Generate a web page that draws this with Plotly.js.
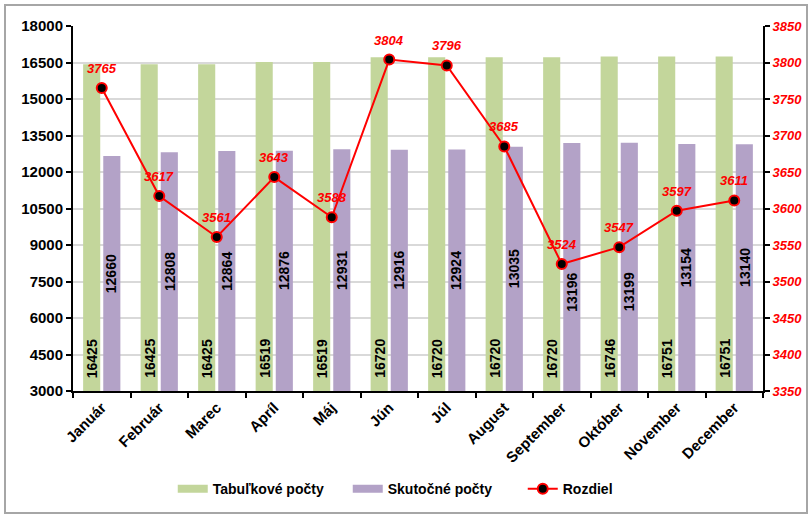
<!DOCTYPE html>
<html><head><meta charset="utf-8">
<script src="https://cdn.plot.ly/plotly-3.0.1.min.js"></script>
<style>html,body{margin:0;padding:0;background:#fff;}#c{width:811px;height:518px;}
#b{position:absolute;left:4px;top:4px;width:800px;height:506px;border:2px solid #a6a6a6;pointer-events:none;}</style>
</head><body><div id="c"></div><div id="b"></div>
<script>
const months = ["Január","Február","Marec","Apríl","Máj","Jún","Júl","August","September","Október","November","December"];
const tabulkove = [16425,16425,16425,16519,16519,16720,16720,16720,16720,16746,16751,16751];
const skutocne = [12660,12808,12864,12876,12931,12916,12924,13035,13196,13199,13154,13140];
const rozdiel = [3765,3617,3561,3643,3588,3804,3796,3685,3524,3547,3597,3611];
const leftTicks = [3000,4500,6000,7500,9000,10500,12000,13500,15000,16500,18000];
const rightTicks = [3350,3400,3450,3500,3550,3600,3650,3700,3750,3800,3850];

const Y1 = [3000,18000], Y2 = [3350,3850];
const PLOT_H = 518 - 26 - 127;
const FONT = "Liberation Sans, Arial, sans-serif";

const traces = [
 {type:"bar", name:"Tabuľkové počty", x:months, y:tabulkove, marker:{color:"#c3d69b"}, showlegend:false, legendgroup:"t"},
 {type:"bar", name:"Skutočné počty", x:months, y:skutocne, marker:{color:"#b3a2c7"}, showlegend:false, legendgroup:"s"},
 {type:"scatter", mode:"lines", name:"Tabuľkové počty", x:[months[0]], y:[null], legendgroup:"t",
  line:{color:"#c3d69b", width:8}, hoverinfo:"skip"},
 {type:"scatter", mode:"lines", name:"Skutočné počty", x:[months[0]], y:[null], legendgroup:"s",
  line:{color:"#b3a2c7", width:8}, hoverinfo:"skip"},
 {type:"scatter", mode:"lines+markers", name:"Rozdiel", x:months, y:rozdiel, yaxis:"y2",
  line:{color:"#ff0000", width:2}, marker:{color:"#000", size:10, line:{color:"#ff0000", width:2}}, cliponaxis:false}
];

const annotations = [];
const barFont = {family:FONT, size:14, color:"#000", weight:"bold"};
months.forEach((m,i)=>{
  annotations.push({x:m, y:Y1[0], xref:"x", yref:"y", text:String(tabulkove[i]), textangle:-90,
    showarrow:false, xanchor:"center", yanchor:"bottom", xshift:-10, yshift:11, font:barFont});
  const mid = (Y1[0]+skutocne[i])/2;
  const midPx = (mid - Y1[0])/(Y1[1]-Y1[0])*PLOT_H;
  const markPx = (rozdiel[i]-Y2[0])/(Y2[1]-Y2[0])*PLOT_H;
  const shift = Math.abs(midPx-markPx) < 30 ? -25 : 0;
  annotations.push({x:m, y:mid, xref:"x", yref:"y", text:String(skutocne[i]), textangle:-90,
    showarrow:false, xanchor:"center", yanchor:"middle", xshift:10, yshift:shift, font:barFont});
  annotations.push({x:m, y:rozdiel[i], xref:"x", yref:"y2", text:String(rozdiel[i]),
    showarrow:false, xanchor:"center", yanchor:"bottom", yshift:10,
    font:{family:FONT, size:13, color:"#ff0000", weight:"bold", style:"italic"}});
});

const layout = {
 width:811, height:518, margin:{l:73, r:48, t:26, b:127},
 paper_bgcolor:"#fff", plot_bgcolor:"#fff",
 barmode:"group", bargap:0.30, bargroupgap:0.15,
 showlegend:true,
 legend:{orientation:"h", x:0.525, xanchor:"center", y:-0.225, yanchor:"top", entrywidth:130,
   font:{family:FONT, size:14, color:"#000", weight:"bold"}, traceorder:"normal"},
 annotations:annotations,
 xaxis:{range:[-0.5, months.length-0.5], tickangle:-45, tickfont:{family:FONT, size:15, color:"#000", weight:"bold"}, automargin:false,
   showline:true, linecolor:"#000", linewidth:2, ticks:"outside", tickson:"boundaries", ticklen:5, tickcolor:"#000", tickwidth:2,
   showgrid:false},
 yaxis:{range:Y1, tickvals:leftTicks, ticktext:leftTicks.map(String), automargin:false,
   tickfont:{family:FONT, size:15, color:"#000", weight:"bold"},
   showline:true, linecolor:"#000", linewidth:2, ticks:"outside", ticklen:5, tickcolor:"#000", tickwidth:2,
   showgrid:true, gridcolor:"#d9d9d9", gridwidth:1.5, zeroline:false},
 yaxis2:{range:Y2, tickvals:rightTicks, ticktext:rightTicks.map(String), overlaying:"y", side:"right", automargin:false,
   tickfont:{family:FONT, size:13, color:"#ff0000", weight:"bold", style:"italic"},
   showline:true, linecolor:"#000", linewidth:2, ticks:"outside", ticklen:5, tickcolor:"#000", tickwidth:2,
   showgrid:false, zeroline:false}
};
Plotly.newPlot("c", traces, layout, {displayModeBar:false});
</script></body></html>
